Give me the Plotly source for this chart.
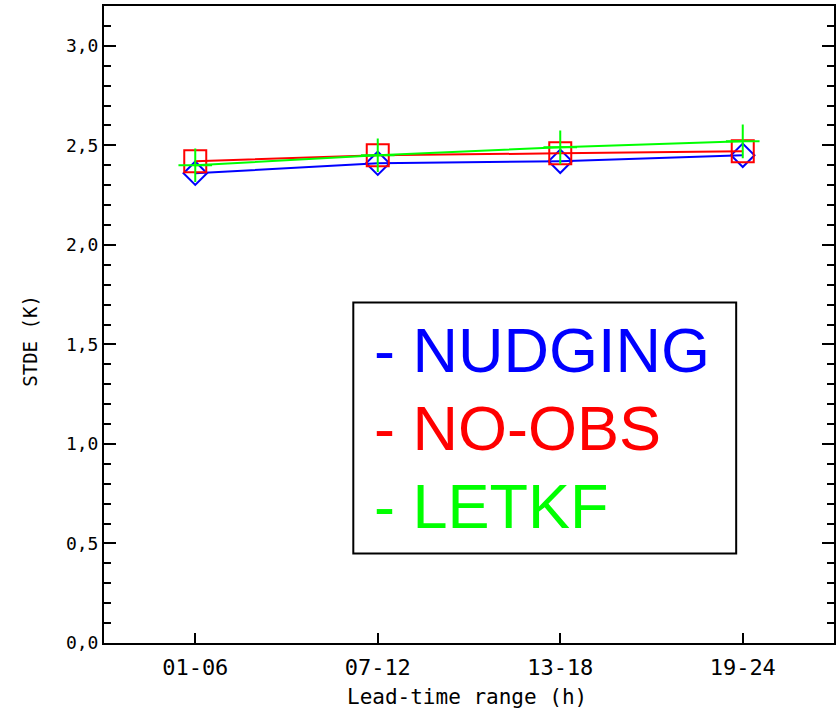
import plotly.graph_objects as go

categories = ["01-06", "07-12", "13-18", "19-24"]
series_names = ["NUDGING", "NO-OBS", "LETKF"]
nudging = [2.36, 2.41, 2.42, 2.45]
no_obs = [2.42, 2.45, 2.46, 2.47]
letkf = [2.40, 2.45, 2.49, 2.52]
y_ticks = [0.0, 0.5, 1.0, 1.5, 2.0, 2.5, 3.0]
y_ticktext = ["0,0", "0,5", "1,0", "1,5", "2,0", "2,5", "3,0"]

colors = ["#0000ff", "#ff0000", "#00ff00"]
symbols = ["diamond-open", "square-open", "cross-thin-open"]
sizes = [18, 22, 24]
xs = [1, 2, 3, 4]

fig = go.Figure()
for name, vals, c, s, sz in zip(series_names, [nudging, no_obs, letkf], colors, symbols, sizes):
    fig.add_trace(go.Scatter(
        x=xs, y=vals, mode="lines+markers", name=name,
        line=dict(color=c, width=2),
        marker=dict(symbol=s, size=sz, color=c, line=dict(color=c, width=2)),
        showlegend=False,
    ))

mono = "DejaVu Sans Mono"
fig.update_layout(
    width=840, height=714,
    margin=dict(l=104, r=4, t=5, b=71),
    paper_bgcolor="white", plot_bgcolor="white",
    xaxis=dict(
        range=[0.5, 4.5], tickvals=xs, ticktext=categories,
        ticks="inside", ticklen=10, tickwidth=2, tickcolor="black",
        showline=True, linecolor="black", linewidth=2, mirror=True,
        showgrid=False, zeroline=False, ticklabelstandoff=4,
        tickfont=dict(family=mono, size=22, color="black"),
    ),
    yaxis=dict(
        range=[0, 3.2], tickvals=y_ticks, ticktext=y_ticktext,
        ticks="inside", ticklen=12, tickwidth=2, tickcolor="black",
        showline=True, linecolor="black", linewidth=2, mirror="allticks",
        showgrid=False, zeroline=False,
        tickfont=dict(family=mono, size=18, color="black"),
        minor=dict(ticks="inside", dtick=0.1, ticklen=7, tickwidth=2, tickcolor="black", showgrid=False),
    ),
)

# axis titles
fig.add_annotation(text="Lead-time range (h)", xref="paper", yref="paper", x=0.497, y=-0.0846,
                   showarrow=False, xanchor="center", yanchor="middle",
                   font=dict(family=mono, size=21, color="black"))
fig.add_annotation(text="STDE (K)", xref="paper", yref="paper", x=-0.101, y=0.475, textangle=-90,
                   showarrow=False, xanchor="center", yanchor="middle",
                   font=dict(family=mono, size=19, color="black"))

fig.add_shape(type="rect", xref="x", yref="y", x0=1.866, x1=3.964, y0=0.45, y1=1.71,
              line=dict(color="black", width=2), fillcolor="white", layer="above")

legend_y = [1.47, 1.08, 0.69]
for name, c, yy in zip(series_names, colors, legend_y):
    fig.add_annotation(x=1.97, y=yy, xref="x", yref="y", text="- " + name,
                       showarrow=False, xanchor="left", yanchor="middle",
                       font=dict(family="Liberation Sans", size=63, color=c))

fig.write_html("out.html")
